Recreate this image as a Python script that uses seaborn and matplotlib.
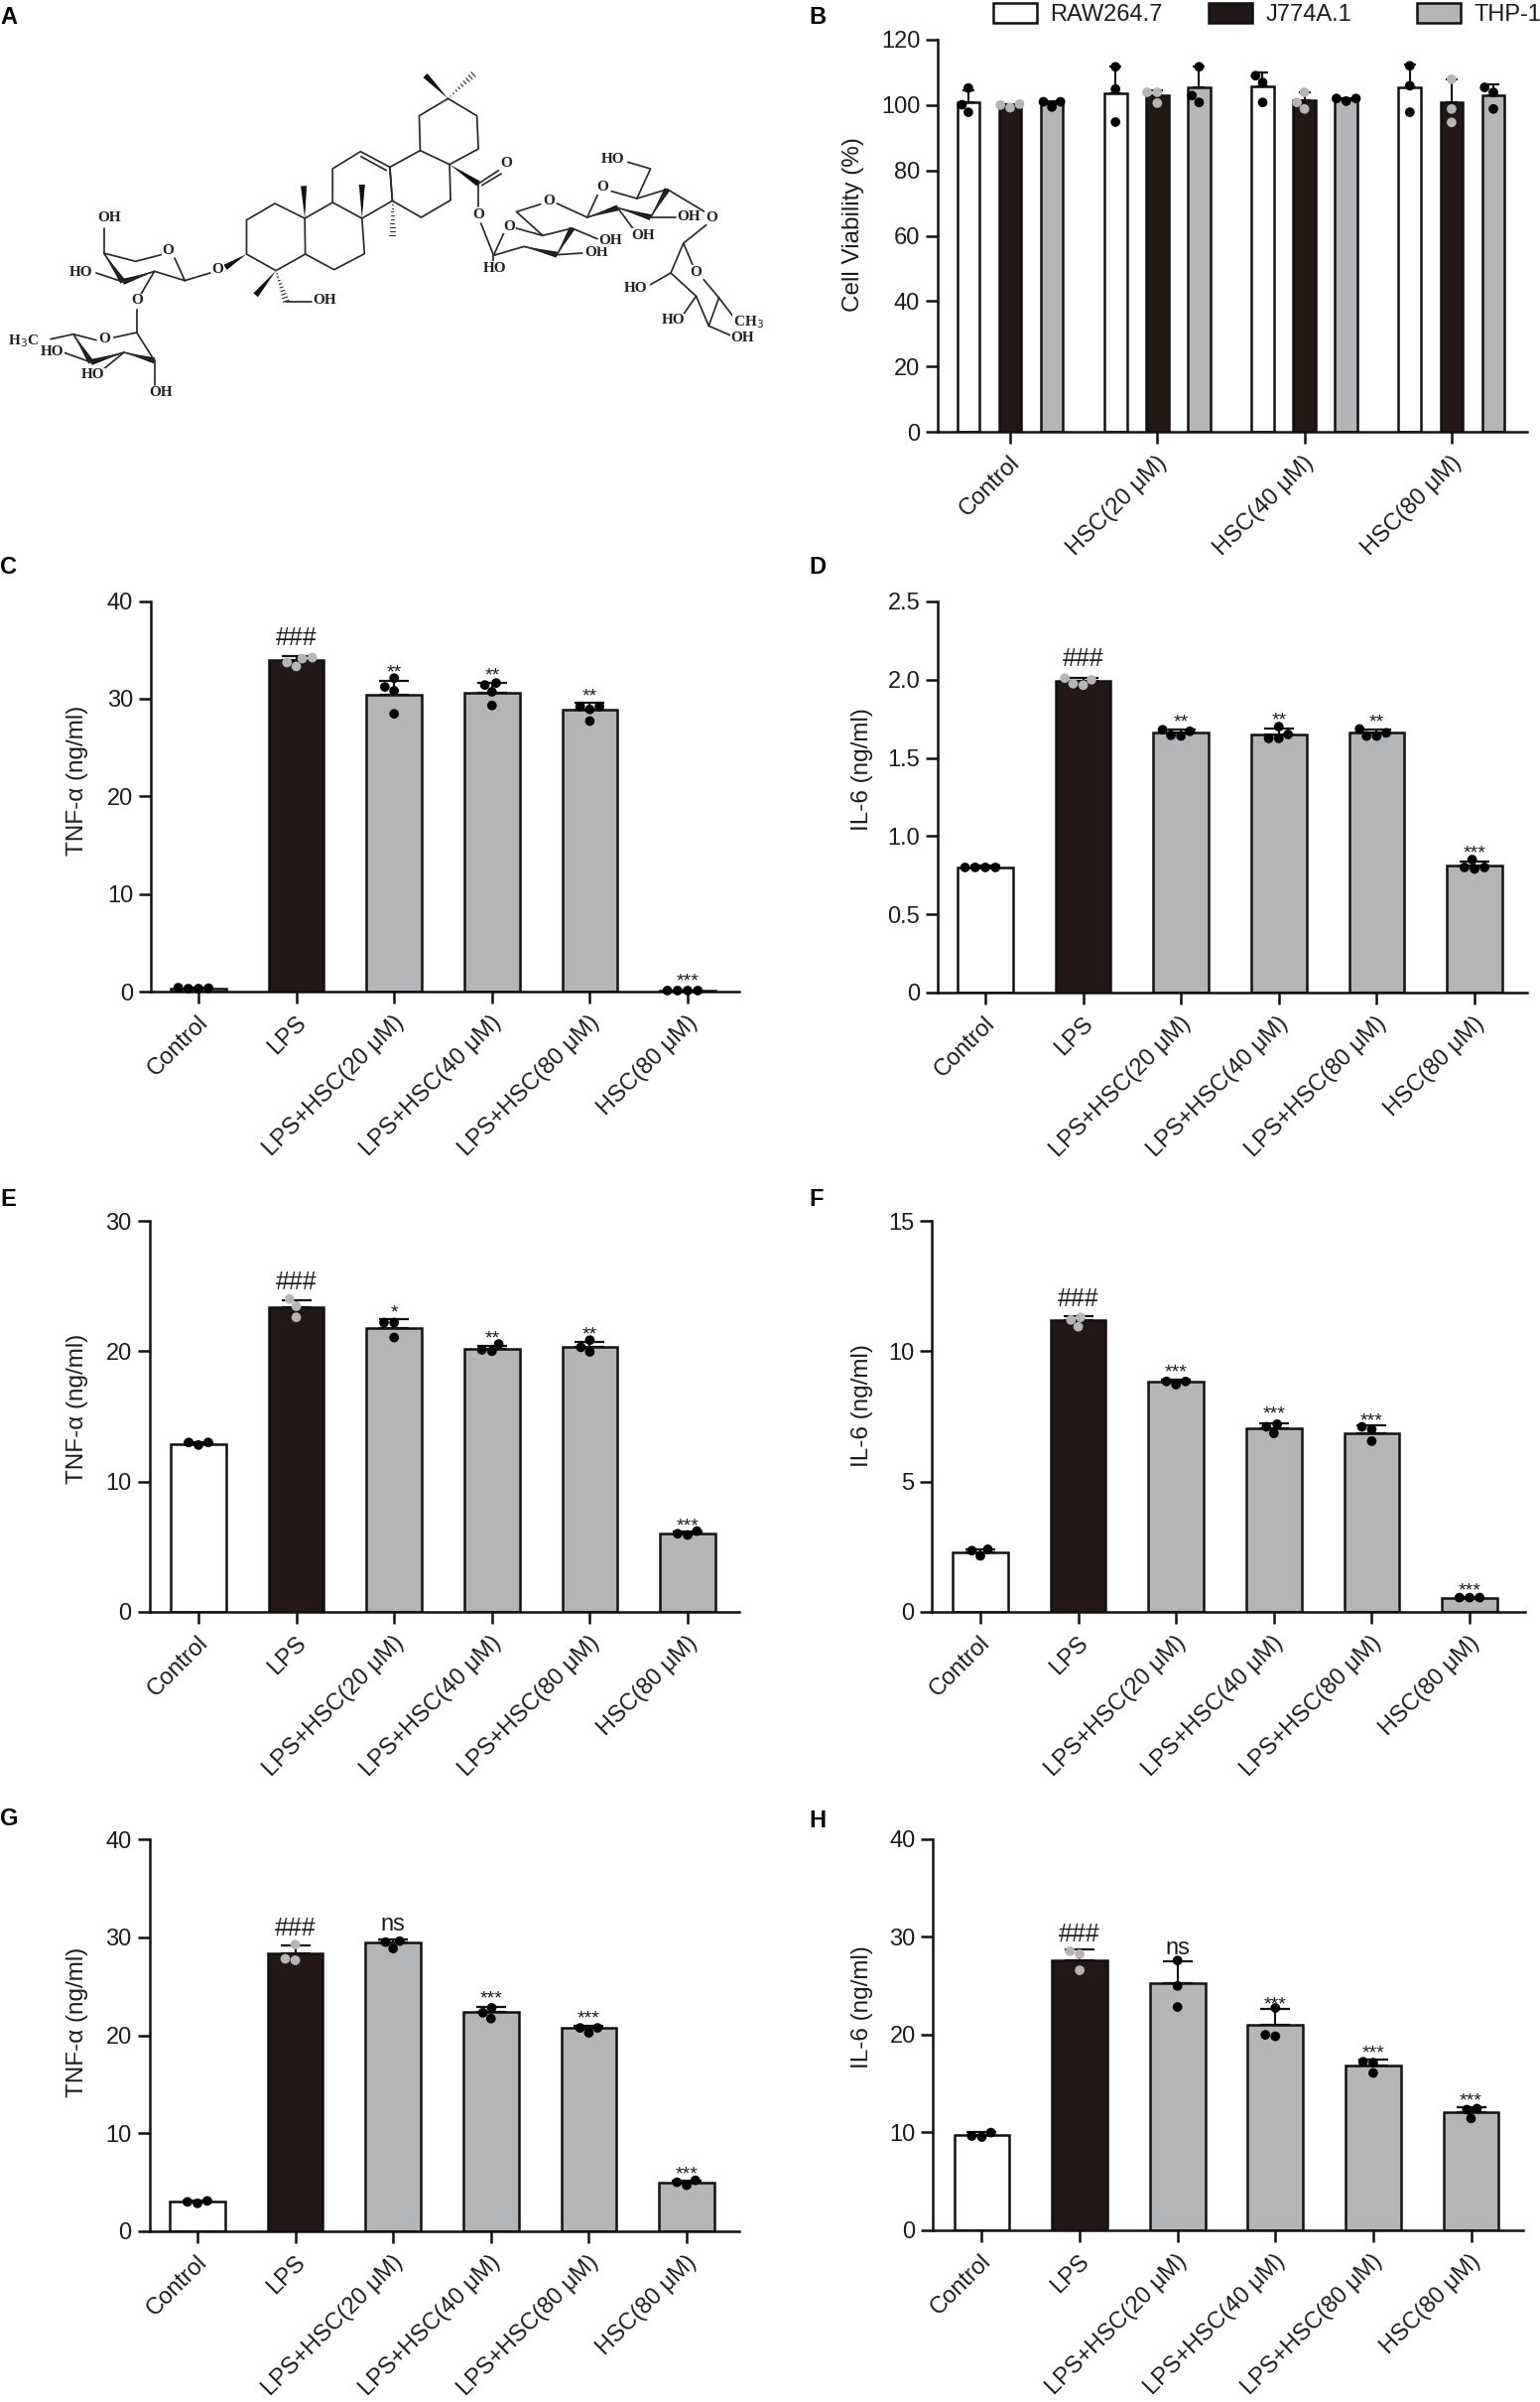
import numpy as np
import pandas as pd
import matplotlib
matplotlib.use('Agg')
import matplotlib.pyplot as plt
from matplotlib.patches import Patch
from matplotlib.transforms import ScaledTranslation
import seaborn as sns

W, H = 1552, 2420

# --- Data ---
GROUPS = ['Control', 'LPS', 'LPS+HSC(20 μM)', 'LPS+HSC(40 μM)', 'LPS+HSC(80 μM)', 'HSC(80 μM)']
B_GROUPS = ['Control', 'HSC(20 μM)', 'HSC(40 μM)', 'HSC(80 μM)']
B_CELLS = ['RAW264.7', 'J774A.1', 'THP-1']

B_heights = [[101, 103.6, 105.6, 105.4], [99.8, 103, 101.5, 100.8], [100.6, 105.4, 101.8, 103]]
B_caps = [[104.6, 111.7, 109.9, 112.5], [100.3, 104.6, 103.9, 108], [101.3, 111.7, 102.2, 106.4]]
B_points = [
    [[105.2, 100.1, 97.8], [111.7, 104.9, 94.8], [109, 106.9, 100.8], [112, 105.9, 97.8]],
    [[99.2, 100.3, 100], [103.9, 103.9, 100.6], [103.9, 100.8, 98.8], [107.9, 98.8, 94.7]],
    [[99.4, 101, 101], [111.7, 102.9, 100.8], [102, 102, 101.2], [105.4, 103.9, 98.8]],
]

C_heights = [0.35, 33.98, 30.4, 30.6, 28.9, 0.15]
C_caps = [0.45, 34.4, 31.85, 31.6, 29.55, 0.15]
C_points = [[0.4, 0.3, 0.35, 0.3], [34.1, 34.2, 33.3, 33.7], [32.1, 31.2, 30.8, 28.45],
            [31.6, 31.4, 30.7, 29.3], [29.2, 28.9, 29.2, 27.7], [0.1, 0.1, 0.1, 0.1]]
C_sig = ['', '###', '**', '**', '**', '***']
C_sig_y = [0, 36.4, 33.0, 32.7, 30.6, 1.35]

D_heights = [0.80, 1.99, 1.66, 1.65, 1.665, 0.81]
D_caps = [0.81, 2.01, 1.68, 1.685, 1.68, 0.835]
D_points = [[0.8, 0.8, 0.8, 0.8], [2.0, 2.01, 1.965, 1.975], [1.67, 1.68, 1.64, 1.645],
            [1.70, 1.65, 1.625, 1.625], [1.685, 1.66, 1.64, 1.64], [0.85, 0.80, 0.79, 0.80]]
D_sig = ['', '###', '**', '**', '**', '***']
D_sig_y = [0, 2.14, 1.75, 1.765, 1.75, 0.91]

E_heights = [12.9, 23.4, 21.8, 20.2, 20.3, 6.0]
E_caps = [13.0, 23.9, 22.5, 20.4, 20.7, 6.2]
E_points = [[13.0, 13.0, 12.8], [24.0, 23.45, 22.6], [22.2, 22.2, 21.05],
            [20.55, 20.0, 20.1], [20.85, 20.3, 19.95], [6.2, 5.9, 6.0]]
E_sig = ['', '###', '*', '**', '**', '***']
E_sig_y = [0, 25.4, 23.2, 21.2, 21.5, 6.8]

F_heights = [2.3, 11.19, 8.83, 7.04, 6.85, 0.55]
F_caps = [2.4, 11.34, 8.9, 7.25, 7.15, 0.56]
F_points = [[2.4, 2.15, 2.35], [11.3, 11.2, 10.94], [8.84, 8.84, 8.72],
            [7.2, 7.1, 6.85], [7.1, 7.0, 6.55], [0.55, 0.55, 0.55]]
F_sig = ['', '###', '***', '***', '***', '***']
F_sig_y = [0, 12.05, 9.3, 7.7, 7.45, 0.93]

G_heights = [3.0, 28.4, 29.5, 22.4, 20.75, 5.0]
G_caps = [3.1, 29.2, 29.75, 22.9, 21.0, 5.2]
G_points = [[3.1, 3.0, 2.85], [29.25, 27.65, 27.8], [29.6, 29.5, 28.85],
            [22.8, 22.3, 21.7], [20.75, 20.75, 20.25], [5.2, 4.7, 5.0]]
G_sig = ['', '###', 'ns', '***', '***', '***']
G_sig_y = [0, 31.1, 31.1, 24.1, 22.0, 6.2]

H_heights = [9.7, 27.6, 25.2, 21.0, 16.85, 12.03]
H_caps = [10.0, 28.65, 27.5, 22.55, 17.45, 12.5]
H_points = [[9.95, 9.5, 9.6], [28.5, 28.2, 26.55], [27.55, 24.95, 22.8],
            [22.7, 19.8, 19.95], [17.2, 17.1, 16.05], [12.4, 12.3, 11.4]]
H_sig = ['', '###', 'ns', '***', '***', '***']
H_sig_y = [0, 30.4, 28.6, 23.4, 18.45, 13.5]

# --- Style ---
WHITE, DARK, GRAY = '#FFFFFF', '#231815', '#B4B5B7'
INK = '#1c1c1c'
FS = 17
LABEL_FS = 17.5
SPINE = 1.8

sns.set_style('ticks')
plt.rcParams['font.family'] = ['Liberation Sans', 'DejaVu Sans']
plt.rcParams['text.color'] = INK
plt.rcParams['axes.labelcolor'] = INK
plt.rcParams['xtick.color'] = INK
plt.rcParams['ytick.color'] = INK

fig = plt.figure(figsize=(W / 100, H / 100), dpi=100)
LABEL_SHIFT = ScaledTranslation(4.5 / 72, -5 / 72, fig.dpi_scale_trans)


def make_axes(left, right, top, bottom):
    return fig.add_axes([left / W, 1 - bottom / H, (right - left) / W, (bottom - top) / H])


def style_axes(ax, ylabel, label_x, label_y, yticks, yticklabels, ymax):
    ax.set_ylim(0, ymax)
    ax.set_yticks(yticks)
    ax.set_yticklabels(yticklabels, fontsize=FS)
    ax.set_ylabel(ylabel, fontsize=LABEL_FS)
    ax.yaxis.set_label_coords(label_x, label_y)
    ax.set_xlabel('')
    sns.despine(ax=ax)
    for s in ['left', 'bottom']:
        ax.spines[s].set_linewidth(SPINE)
        ax.spines[s].set_color('#111111')
    ax.tick_params(axis='both', length=8.3, width=SPINE, pad=4.5, color='#111111')
    ax.tick_params(axis='x', pad=7)
    ax.patch.set_alpha(0)


# tick_params resets the label transform, so this has to run after style_axes
def rotate_labels(ax, labels):
    ax.set_xticklabels(labels, rotation=45, ha='right', va='center', rotation_mode='anchor', fontsize=FS)
    for t in ax.get_xticklabels():
        t.set_transform(t.get_transform() + LABEL_SHIFT)


SIG_STYLE = {'###': (18, 8.7), '*': (14, 8.2), '**': (14, 8.2), '***': (14, 8.2), 'ns': (17, 4.5)}


def panel(pos, centre, heights, caps, points, sig, sig_y, ylabel, label_y, yticks, yticklabels):
    left, right, top, bottom = pos
    ax = make_axes(left, right, top, bottom)
    sns.barplot(x=GROUPS, y=heights, hue=GROUPS, palette=[WHITE, DARK, GRAY, GRAY, GRAY, GRAY],
                order=GROUPS, hue_order=GROUPS, width=0.565, saturation=1, edgecolor='#111111',
                linewidth=SPINE, legend=False, ax=ax)
    xs = np.arange(len(GROUPS))
    ax.errorbar(xs, heights, yerr=[np.zeros(len(xs)), np.array(caps) - np.array(heights)], fmt='none',
                ecolor='#111111', elinewidth=1.5, capsize=10.5, capthick=1.6, zorder=3)
    long = pd.DataFrame({'group': [g for g, p in zip(GROUPS, points) for _ in p],
                         'value': [v for p in points for v in p]})
    sns.swarmplot(data=long, x='group', y='value', hue='group', order=GROUPS, hue_order=GROUPS,
                  palette=['#000000', '#b5b5b5', '#000000', '#000000', '#000000', '#000000'],
                  size=7, clip_on=False, zorder=4, legend=False, ax=ax)
    for x, s, y in zip(xs, sig, sig_y):
        if s:
            fs, dy = SIG_STYLE[s]
            ax.annotate(s, (x, y), xytext=(0, -dy / 1.389), textcoords='offset points',
                        ha='center', va='baseline', fontsize=fs, color=INK)
    ax.set_xlim((left - centre) / 98.6, (right - centre) / 98.6)
    ax.set_xticks(xs)
    label_x = ((89 if left < 500 else 880) - left) / (right - left)
    style_axes(ax, ylabel, label_x, label_y, yticks, yticklabels, yticks[-1])
    rotate_labels(ax, GROUPS)
    return ax


# --- Panel B ---
ax_b = make_axes(945, 1539, 40, 435)
OFFSET = 0.284
rows = []
for j, cell in enumerate(B_CELLS):
    for i in range(len(B_GROUPS)):
        rows.append({'x': round(i + (j - 1) * OFFSET, 3), 'cell': cell,
                     'height': B_heights[j][i], 'cap': B_caps[j][i]})
b_df = pd.DataFrame(rows)
sns.barplot(data=b_df, x='x', y='height', hue='cell', hue_order=B_CELLS, palette=[WHITE, DARK, GRAY],
            native_scale=True, dodge=False, width=0.54, saturation=1, edgecolor='#111111',
            linewidth=SPINE, legend=False, ax=ax_b)
ax_b.errorbar(b_df['x'], b_df['height'], yerr=[np.zeros(len(b_df)), b_df['cap'] - b_df['height']],
              fmt='none', ecolor='#111111', elinewidth=1.5, capsize=4.5, capthick=1.6, zorder=3)
b_long = pd.DataFrame([{'x': round(i + (j - 1) * OFFSET, 3), 'cell': cell, 'value': v}
                       for j, cell in enumerate(B_CELLS)
                       for i in range(len(B_GROUPS)) for v in B_points[j][i]])
sns.swarmplot(data=b_long, x='x', y='value', hue='cell', hue_order=B_CELLS,
              palette=['#000000', '#b5b5b5', '#000000'], native_scale=True, dodge=False,
              size=7, clip_on=False, zorder=4, legend=False, ax=ax_b)
ax_b.set_xlim((945 - 1018) / 148.3, (1539 - 1018) / 148.3)
ax_b.set_xticks(range(len(B_GROUPS)))
style_axes(ax_b, 'Cell Viability (%)', (871 - 945) / 594, 0.53, [0, 20, 40, 60, 80, 100, 120],
           ['0', '20', '40', '60', '80', '100', '120'], 120)
rotate_labels(ax_b, B_GROUPS)

for cell, colour, lx in zip(B_CELLS, [WHITE, DARK, GRAY], [1001, 1218, 1428]):
    fig.legend(handles=[Patch(facecolor=colour, edgecolor='#111111', linewidth=SPINE, label=cell)],
               loc='lower left', bbox_to_anchor=(lx / W, 1 - 26 / H), frameon=False, fontsize=FS,
               handlelength=1.85, handleheight=0.95, handletextpad=0.58, borderpad=0, borderaxespad=0)

# --- Panels C-H ---
TICKS_40, LABELS_40 = [0, 10, 20, 30, 40], ['0', '10', '20', '30', '40']
panel((152, 745, 605.5, 999), 200, C_heights, C_caps, C_points, C_sig, C_sig_y, 'TNF-α (ng/ml)', 0.54,
      TICKS_40, LABELS_40)
panel((945, 1539, 606, 1000), 993, D_heights, D_caps, D_points, D_sig, D_sig_y, 'IL-6 (ng/ml)', 0.57,
      [0, 0.5, 1.0, 1.5, 2.0, 2.5], ['0', '0.5', '1.0', '1.5', '2.0', '2.5'])
panel((150.5, 745, 1230, 1624), 200, E_heights, E_caps, E_points, E_sig, E_sig_y, 'TNF-α (ng/ml)', 0.52,
      [0, 10, 20, 30], ['0', '10', '20', '30'])
panel((939, 1537, 1230, 1624), 988, F_heights, F_caps, F_points, F_sig, F_sig_y, 'IL-6 (ng/ml)', 0.527,
      [0, 5, 10, 15], ['0', '5', '10', '15'])
panel((150.5, 745, 1853, 2248), 199, G_heights, G_caps, G_points, G_sig, G_sig_y, 'TNF-α (ng/ml)', 0.533,
      TICKS_40, LABELS_40)
panel((940.5, 1535, 1852.6, 2246.6), 989.5, H_heights, H_caps, H_points, H_sig, H_sig_y, 'IL-6 (ng/ml)', 0.57,
      TICKS_40, LABELS_40)

# --- Panel A: structure drawing, coordinates in crop units of the reference ---
BONDS = [
    [(885, 298), (942, 350), (945, 450), (888, 497), (830, 455), (828, 350), (885, 298)],
    [(888, 497), (890, 605), (832, 657), (775, 607), (770, 505), (830, 455)],
    [(770, 505), (712, 458), (657, 510), (657, 612), (715, 660), (775, 607), (770, 505)],
    [(763, 515), (713, 473)],
    [(657, 612), (602, 660), (603, 768), (660, 815), (720, 767), (715, 660)],
    [(602, 660), (543, 615), (487, 665), (487, 768), (545, 818), (603, 768)],
    [(565, 912), (615, 912)],
    [(945, 555), (985, 515)], [(952, 560), (990, 525)], [(945, 555), (945, 625)], [(950, 675), (975, 772)],
    [(975, 772), (995, 705)], [(1020, 690), (1072, 712), (1130, 690)], [(1072, 712), (1020, 640), (1068, 617)],
    [(975, 772), (1035, 745), (1100, 770), (1130, 690)], [(1100, 770), (1150, 765)], [(1130, 690), (1180, 722)],
    [(975, 772), (975, 795)], [(1100, 615), (1160, 657)],
    [(1160, 657), (1220, 628), (1285, 657), (1318, 572), (1258, 600), (1208, 578)], [(1160, 657), (1180, 590)],
    [(1285, 657), (1335, 657)], [(1220, 628), (1250, 690)], [(1258, 600), (1285, 510), (1240, 490)],
    [(1318, 572), (1392, 640)],
    [(1395, 680), (1350, 735), (1325, 825), (1375, 895), (1400, 985), (1420, 900), (1390, 845)],
    [(1350, 735), (1368, 800)], [(1325, 825), (1285, 860)], [(1375, 895), (1350, 950)],
    [(1420, 900), (1450, 960)], [(1400, 985), (1445, 1015)],
    [(365, 848), (305, 820), (243, 852), (205, 765), (268, 790), (318, 770)], [(345, 780), (365, 848)],
    [(365, 848), (415, 825)], [(205, 765), (205, 690)], [(243, 852), (190, 825)], [(305, 820), (278, 890)],
    [(270, 935), (270, 1005)],
    [(270, 1005), (305, 1090), (245, 1065), (180, 1095), (145, 1010), (190, 1028)], [(225, 1020), (270, 1005)],
    [(305, 1090), (305, 1165)], [(245, 1065), (205, 1115)], [(180, 1095), (125, 1065)], [(145, 1010), (100, 1025)],
]
WEDGES = [((885, 298), (840, 228)), ((715, 660), (715, 558)), ((602, 660), (600, 562)), ((487, 768), (445, 808)),
          ((545, 818), (505, 892)), ((888, 497), (945, 555)), ((1035, 745), (1100, 770)), ((1100, 770), (1130, 690)),
          ((1160, 657), (1220, 628)), ((1220, 628), (1285, 657)), ((1285, 657), (1318, 572)), ((205, 765), (243, 852)),
          ((305, 820), (243, 852)), ((145, 1010), (180, 1095)), ((245, 1065), (180, 1095)), ((245, 1065), (305, 1090))]
HASHES = [((885, 298), (935, 225)), ((775, 607), (775, 710)), ((545, 818), (565, 910))]
ATOMS = [('OH', 215, 658), ('O', 332, 757), ('HO', 160, 822), ('O', 430, 815), ('O', 270, 908), ('OH', 642, 907),
         ('H$_3$C', 46, 1030), ('O', 207, 1025), ('HO', 104, 1063), ('HO', 183, 1133), ('OH', 318, 1187),
         ('O', 1000, 492), ('O', 945, 648), ('O', 1005, 685), ('O', 1085, 607), ('HO', 978, 810), ('OH', 1178, 762),
         ('OH', 1205, 727), ('O', 1190, 565), ('OH', 1270, 712), ('OH', 1360, 657), ('HO', 1210, 483), ('O', 1405, 658),
         ('O', 1375, 822), ('HO', 1255, 872), ('HO', 1330, 968), ('CH$_3$', 1478, 975), ('OH', 1467, 1022)]

ax_a = fig.add_axes([0, 0, 1, 1], zorder=-1)
ax_a.set_xlim(0, W)
ax_a.set_ylim(H, 0)
ax_a.axis('off')
BOND_INK = '#2a2a2a'
for chain in BONDS:
    ax_a.plot([p[0] / 1.96 for p in chain], [p[1] / 3 for p in chain], color=BOND_INK, lw=1.25)
for (x0, y0), (x1, y1) in WEDGES:
    x0, y0, x1, y1 = x0 / 1.96, y0 / 3, x1 / 1.96, y1 / 3
    dx, dy = x1 - x0, y1 - y0
    n = np.hypot(dx, dy)
    nx, ny = -dy / n * 3, dx / n * 3
    ax_a.fill([x0, x1 + nx, x1 - nx], [y0, y1 + ny, y1 - ny], color='#111111', lw=0)
for (x0, y0), (x1, y1) in HASHES:
    x0, y0, x1, y1 = x0 / 1.96, y0 / 3, x1 / 1.96, y1 / 3
    dx, dy = x1 - x0, y1 - y0
    n = np.hypot(dx, dy)
    for t in np.linspace(0.1, 1, 9):
        nx, ny = -dy / n * 3 * t, dx / n * 3 * t
        ax_a.plot([x0 + dx * t + nx, x0 + dx * t - nx], [y0 + dy * t + ny, y0 + dy * t - ny], color=BOND_INK, lw=0.8)
for name, x, y in ATOMS:
    ax_a.text(x / 1.96, y / 3, name, ha='center', va='center', fontsize=11, fontweight='bold',
              family='Liberation Serif', color='#222222', bbox=dict(facecolor='white', edgecolor='none', pad=0.3))

# --- Panel letters ---
for letter, x, y in [('A', 0, 24), ('B', 815, 24), ('C', 0, 578), ('D', 815, 578),
                     ('E', 0, 1215), ('F', 815, 1215), ('G', 0, 1839), ('H', 815, 1841)]:
    fig.text(x / W, 1 - y / H, letter, fontsize=17, fontweight='bold', color='black', ha='left', va='baseline')

fig.savefig('out.png', dpi=100, facecolor='white')
